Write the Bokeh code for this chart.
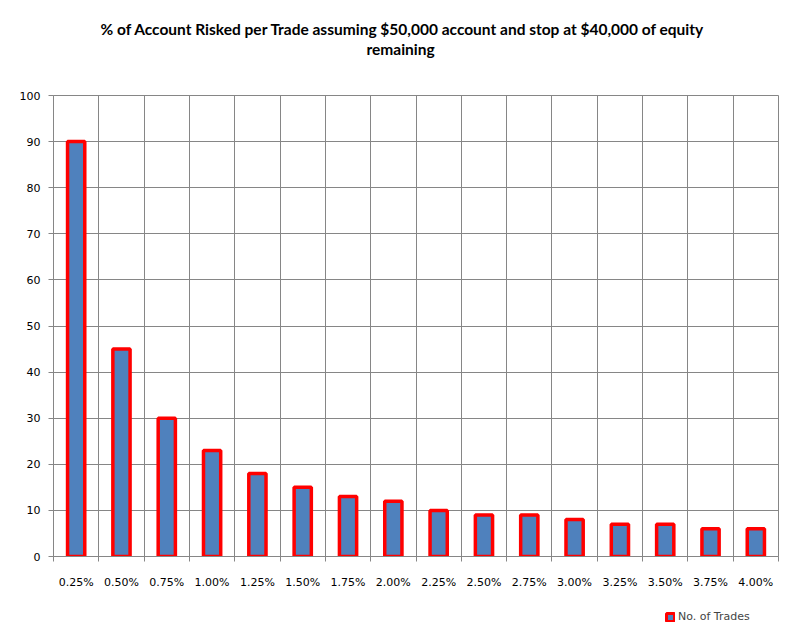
from bokeh.plotting import figure
from bokeh.layouts import column
from bokeh.models import FixedTicker, ColumnDataSource, Legend, LegendItem, Title
from bokeh.embed import file_html
from bokeh.resources import INLINE

# % of account risked per trade vs number of trades
risk_labels = ["0.25%", "0.50%", "0.75%", "1.00%", "1.25%", "1.50%", "1.75%", "2.00%",
               "2.25%", "2.50%", "2.75%", "3.00%", "3.25%", "3.50%", "3.75%", "4.00%"]
trades = [90, 45, 30, 23, 18, 15, 13, 12, 10, 9, 9, 8, 7, 7, 6, 6]
title_lines = ["% of Account Risked per Trade assuming $50,000 account and stop at $40,000 of equity",
               "remaining"]
series_name = "No. of Trades"

n = len(risk_labels)
centers = [i + 0.5 for i in range(n)]
src = ColumnDataSource(data=dict(x=centers, top=trades, label=risk_labels))

GRID = "#868686"
BAR_FILL = "#4F81BD"
BAR_LINE = "#FF0000"

p = figure(width=780, height=600, x_range=(0, n), y_range=(0, 100),
           output_backend="svg", toolbar_location=None,
           min_border_left=53, min_border_right=2, min_border_bottom=44, min_border_top=95,
           background_fill_color="white", border_fill_color="white")

# spacer between frame and the title lines (titles added later sit further up)
p.add_layout(Title(text=" ", text_font_size="15.5px", standoff=19), "above")
p.add_layout(Title(text=title_lines[1], align="left", offset=313, text_font="Lato",
                   text_font_size="15.5px", text_font_style="bold", text_color="black",
                   standoff=0), "above")
p.add_layout(Title(text=title_lines[0], align="left", offset=47, text_font="Lato",
                   text_font_size="15.5px", text_font_style="bold", text_color="black",
                   standoff=0), "above")

p.vbar(x="x", top="top", width=0.38, bottom=0, source=src,
       fill_color=BAR_FILL, line_color=BAR_LINE, line_width=3.5)

# x axis: labels under bars, ticks/grid on category boundaries
p.xaxis.ticker = FixedTicker(ticks=centers, minor_ticks=list(range(n + 1)))
p.xaxis.major_label_overrides = {c: l for c, l in zip(centers, risk_labels)}
p.xaxis.major_tick_out = 0
p.xaxis.major_tick_in = 0
p.xaxis.minor_tick_out = 5
p.xaxis.minor_tick_in = 0
p.xaxis.minor_tick_line_color = GRID
p.xaxis.major_label_standoff = 14
p.xgrid.ticker = FixedTicker(ticks=list(range(n + 1)))

p.yaxis.ticker = FixedTicker(ticks=list(range(0, 101, 10)))
p.yaxis.major_tick_out = 5
p.yaxis.major_tick_in = 0
p.yaxis.minor_tick_line_color = None
p.yaxis.major_tick_line_color = GRID
p.yaxis.major_label_standoff = 8

for ax in (p.xaxis, p.yaxis):
    ax.axis_line_color = GRID
    ax.major_label_text_font = "DejaVu Sans"
    ax.major_label_text_font_size = "11px"
    ax.major_label_text_color = "black"

for g in (p.xgrid, p.ygrid):
    g.grid_line_color = GRID
    g.grid_line_width = 1
    g.grid_line_alpha = 1

p.outline_line_color = GRID

# legend strip under the chart (its frame is aligned with the chart frame);
# the renderer here is hidden, only its legend swatch is drawn
leg = figure(width=780, height=33, x_range=(0, n), y_range=(500, 501),
             output_backend="svg", toolbar_location=None, min_border=0,
             background_fill_color="white", border_fill_color="white")
leg.axis.visible = False
leg.grid.visible = False
leg.outline_line_color = None
swatch = leg.vbar(x="x", top="top", width=0.38, bottom=0, source=src,
                  fill_color=BAR_FILL, line_color=BAR_LINE, line_width=3)
swatch.visible = False
legend = Legend(items=[LegendItem(label=series_name, renderers=[swatch])],
                location=(612, 10), orientation="horizontal",
                label_text_font="DejaVu Sans", label_text_font_size="11px",
                glyph_width=10, glyph_height=10, label_standoff=3,
                label_height=12, border_line_color=None, background_fill_alpha=0,
                inactive_fill_alpha=0, padding=0, margin=0)
leg.add_layout(legend, "center")

layout = column(p, leg, spacing=0)

open("out.html", "w").write(file_html(layout, INLINE))
